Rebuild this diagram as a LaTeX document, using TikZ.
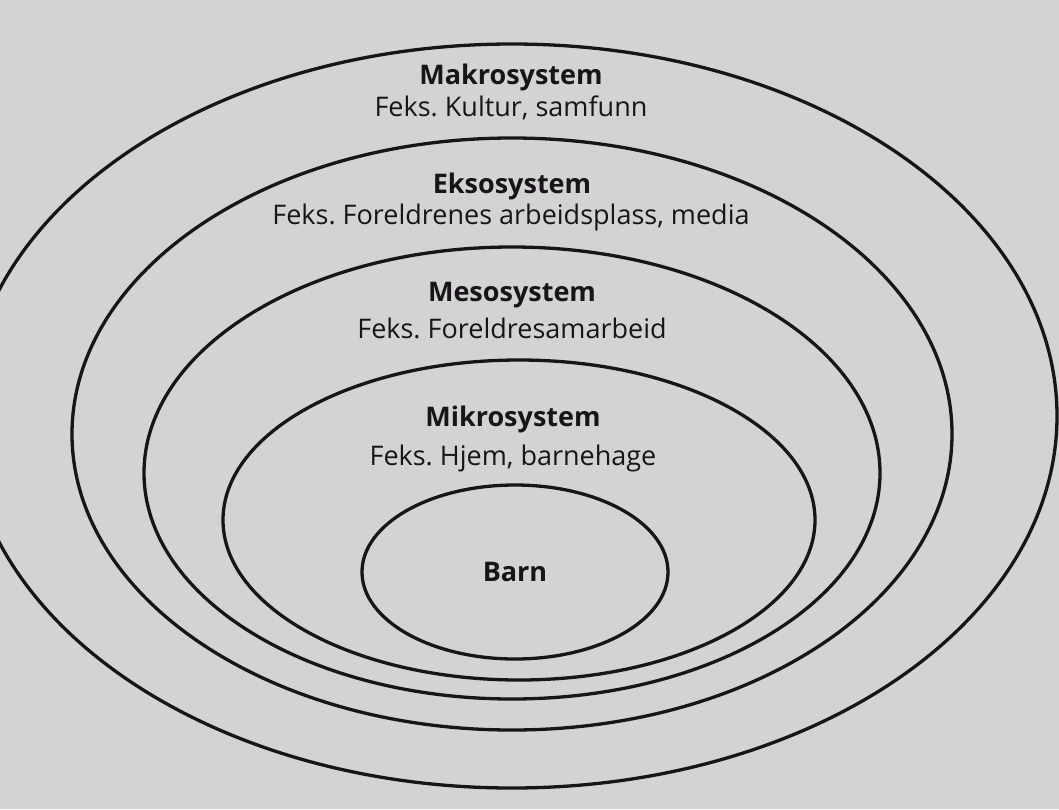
\documentclass[tikz,border=0pt]{standalone}
\usepackage{fontspec}
\setmainfont{Open Sans}
\usetikzlibrary{positioning}

\definecolor{paper}{RGB}{211,211,211}
\definecolor{ink}{RGB}{25,20,25}

\begin{document}
\frenchspacing
\begin{tikzpicture}[x=1pt, y=-1pt,
  ring/.style={draw=ink, line width=3.3pt},
  title/.style={font=\fontsize{27}{30}\selectfont\bfseries, text=ink, inner sep=0pt},
  sample/.style={font=\fontsize{27}{30}\selectfont, text=ink, inner sep=0pt}]
\fill[paper] (0,0) rectangle (1059,809);
\clip (0,0) rectangle (1059,809);

% nested systems, outer to inner
\draw[ring] (512,416) ellipse [x radius=545, y radius=372];
\draw[ring] (512,434) ellipse [x radius=440, y radius=296];
\draw[ring] (512,473) ellipse [x radius=368, y radius=226];
\draw[ring] (519,520) ellipse [x radius=296, y radius=160];
\draw[ring] (515,572) ellipse [x radius=153, y radius=87];

\node[title] (makro) at (511,77) {Makrosystem};
\node[sample] (makroex) at (511,108) {Feks. Kultur, samfunn};
\node[title] (ekso) at (512,186) {Eksosystem};
\node[sample] (eksoex) at (511,217) {Feks. Foreldrenes arbeidsplass, media};
\node[title] (meso) at (512,295) {Mesosystem};
\node[sample] (mesoex) at (512,328) {Feks. Foreldresamarbeid};
\node[title] (mikro) at (513,419) {Mikrosystem};
\node[sample] (mikroex) at (513,458) {Feks. Hjem, barnehage};
\node[title] (barn) at (515,572) {Barn};
\end{tikzpicture}
\end{document}
